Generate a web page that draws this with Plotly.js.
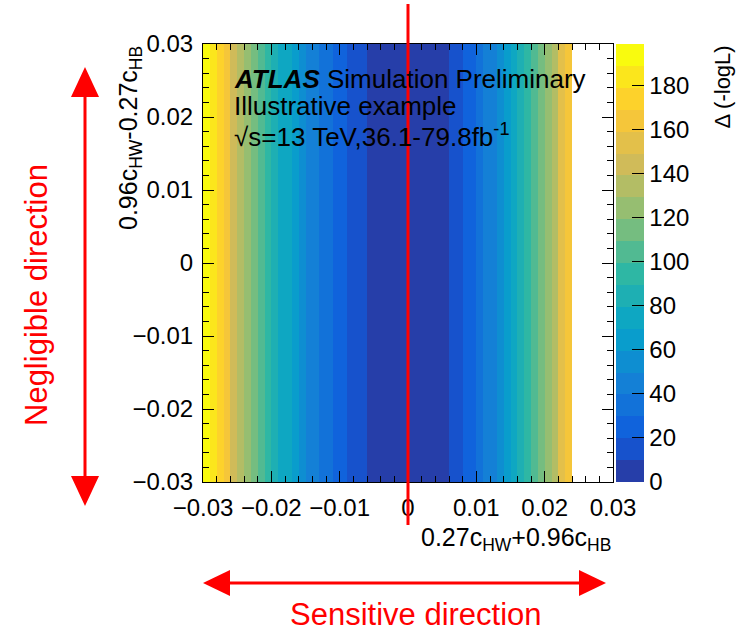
<!DOCTYPE html>
<html>
<head>
<meta charset="utf-8">
<script src="https://cdn.plot.ly/plotly-3.0.1.min.js"></script>
<style>
  html, body { margin: 0; padding: 0; background: #fff; }
  #chart { width: 750px; height: 632px; }
</style>
</head>
<body>
<div id="chart"></div>
<script>
// Bin centres along the sensitive direction (0.27cHW + 0.96cHB)
const xCenters = [
  -0.0295, -0.0285, -0.0275, -0.0265, -0.0255, -0.0245, -0.0235, -0.0225, -0.0215, -0.0205,
  -0.0195, -0.0185, -0.0175, -0.0165, -0.0155, -0.0145, -0.0135, -0.0125, -0.0115, -0.0105,
  -0.0095, -0.0085, -0.0075, -0.0065, -0.0055, -0.0045, -0.0035, -0.0025, -0.0015, -0.0005,
   0.0005,  0.0015,  0.0025,  0.0035,  0.0045,  0.0055,  0.0065,  0.0075,  0.0085,  0.0095,
   0.0105,  0.0115,  0.0125,  0.0135,  0.0145,  0.0155,  0.0165,  0.0175,  0.0185,  0.0195,
   0.0205,  0.0215,  0.0225,  0.0235
];
// Negligible direction: the likelihood is flat, a single row covers it
const yEdges = [-0.03, 0.03];
// Delta(-logL) in each column
const deltaNLL = [
  198, 185, 172, 160, 149, 138, 127, 116, 106, 97,
  88, 79, 71, 63, 56, 49, 42, 36, 31, 26,
  21, 17, 13, 11, 8, 6, 3.5, 2, 1, 0.3,
  0.2, 1, 2, 4, 6, 9, 13, 17, 22, 27,
  33, 40, 47, 55, 63, 72, 81, 91, 102, 114,
  126, 139, 152, 166
];
const zTickVals = [0, 20, 40, 60, 80, 100, 120, 140, 160, 180];

// ROOT "kBird" palette, split into 20 contour bands
const birdStops = [0.0, 0.125, 0.25, 0.375, 0.5, 0.625, 0.75, 0.875, 1.0];
const birdR = [0.2082, 0.0592, 0.0780, 0.0232, 0.1802, 0.5301, 0.8186, 0.9956, 0.9764];
const birdG = [0.1664, 0.3599, 0.5041, 0.6419, 0.7178, 0.7492, 0.7328, 0.7862, 0.9832];
const birdB = [0.5293, 0.8684, 0.8385, 0.7914, 0.6425, 0.4662, 0.3499, 0.1968, 0.0539];
function bird(t) {
  let i = 0;
  while (i < birdStops.length - 2 && t > birdStops[i + 1]) i++;
  const f = (t - birdStops[i]) / (birdStops[i + 1] - birdStops[i]);
  const c = ch => Math.round(255 * (ch[i] + f * (ch[i + 1] - ch[i])));
  return 'rgb(' + c(birdR) + ',' + c(birdG) + ',' + c(birdB) + ')';
}
const nBands = 20;
const colorscale = [];
for (let i = 0; i < nBands; i++) {
  // each contour band takes the palette colour at its upper end
  const col = bird(Math.min(1, (i + 0.99) / nBands));
  colorscale.push([i / nBands, col]);
  colorscale.push([(i + 1) / nBands, col]);
}

// Figure geometry (plot area in pixels)
const W = 750, H = 632;
const L = 203, R = 613, T = 44, B = 482;
const px = x => (x - L) / (R - L);
const py = y => (B - y) / (B - T);

const FONT = 'Liberation Sans, Arial, sans-serif';
const RED = '#ff0000';

const trace = {
  type: 'heatmap',
  x: xCenters,
  y: yEdges,
  z: [deltaNLL],
  zmin: 0,
  zmax: 199,
  colorscale: colorscale,
  zsmooth: false,
  hoverinfo: 'skip',
  colorbar: {
    x: px(616), xanchor: 'left', xpad: 0,
    y: 0.5, yanchor: 'middle', ypad: 0,
    len: 1, lenmode: 'fraction',
    thickness: 28, thicknessmode: 'pixels',
    outlinewidth: 0,
    tickmode: 'array', tickvals: zTickVals,
    ticks: 'inside', ticklen: 12, tickcolor: '#000', tickwidth: 1,
    ticklabelstandoff: 3,
    tickfont: { family: FONT, size: 24, color: '#000' }
  }
};

const axisCommon = {
  range: [-0.03, 0.03],
  showgrid: false, zeroline: false,
  showline: true, linecolor: '#000', linewidth: 1, mirror: 'allticks',
  ticks: 'inside', ticklen: 11, tickcolor: '#000', tickwidth: 1,
  dtick: 0.01, tick0: 0,
  minor: { ticks: 'inside', ticklen: 6, dtick: 0.002, tick0: 0, tickcolor: '#000', showgrid: false },
  tickfont: { family: FONT, size: 24, color: '#000' },
  fixedrange: true
};

function arrowHead(tipX, tipY, baseX, baseY, half) {
  // triangle pointing from base to tip, in pixel space
  const dx = tipX - baseX, dy = tipY - baseY;
  const len = Math.hypot(dx, dy);
  const nx = -dy / len * half, ny = dx / len * half;
  return {
    type: 'path', xref: 'paper', yref: 'paper', layer: 'above',
    path: 'M' + px(tipX) + ',' + py(tipY) +
          ' L' + px(baseX + nx) + ',' + py(baseY + ny) +
          ' L' + px(baseX - nx) + ',' + py(baseY - ny) + ' Z',
    fillcolor: RED, line: { width: 0 }
  };
}
function redLine(x0, y0, x1, y1, w) {
  return {
    type: 'line', xref: 'paper', yref: 'paper', layer: 'above',
    x0: px(x0), y0: py(y0), x1: px(x1), y1: py(y1),
    line: { color: RED, width: w }
  };
}

const shapes = [
  // vertical marker at the origin of the sensitive direction
  redLine(408, 4, 408, 525, 3),
  // negligible-direction arrow
  redLine(85, 92, 85, 482, 3),
  arrowHead(85, 67, 85, 97, 14),
  arrowHead(85, 506, 85, 476, 14),
  // sensitive-direction arrow
  redLine(226, 583, 584, 583, 3),
  arrowHead(203, 583, 230, 583, 13),
  arrowHead(606, 583, 579, 583, 13)
];

const annotations = [
  { text: '<b><i>ATLAS</i></b> Simulation Preliminary', x: px(232), y: py(79),
    xanchor: 'left', yanchor: 'middle', font: { family: FONT, size: 26, color: '#000' } },
  { text: 'Illustrative example', x: px(232), y: py(106),
    xanchor: 'left', yanchor: 'middle', font: { family: FONT, size: 26, color: '#000' } },
  { text: '√s=13 TeV,36.1-79.8fb<sup>-1</sup>', x: px(232), y: py(135),
    xanchor: 'left', yanchor: 'middle', font: { family: FONT, size: 26, color: '#000' } },
  { text: '0.27c<sub>HW</sub>+0.96c<sub>HB</sub>', x: 1, y: py(539),
    xanchor: 'right', yanchor: 'middle', font: { family: FONT, size: 25, color: '#000' } },
  { text: '0.96c<sub>HW</sub>-0.27c<sub>HB</sub>', x: px(130), y: 1, textangle: -90,
    xanchor: 'center', yanchor: 'top', font: { family: FONT, size: 25, color: '#000' } },
  { text: 'Δ (-logL)', x: px(722), y: py(44), textangle: -90,
    xanchor: 'center', yanchor: 'top', font: { family: FONT, size: 22, color: '#000' } },
  { text: 'Negligible direction', x: px(36), y: py(295), textangle: -90,
    xanchor: 'center', yanchor: 'middle', font: { family: FONT, size: 31, color: RED } },
  { text: 'Sensitive direction', x: px(416), y: py(614),
    xanchor: 'center', yanchor: 'middle', font: { family: FONT, size: 31, color: RED } }
].map(a => Object.assign({
  xref: 'paper', yref: 'paper', showarrow: false,
  font: { family: FONT, size: 24, color: '#000' }
}, a));

const layout = {
  width: W, height: H,
  margin: { l: L, r: W - R, t: T, b: H - B, pad: 0 },
  paper_bgcolor: '#fff', plot_bgcolor: '#fff',
  xaxis: Object.assign({}, axisCommon, { ticklabelstandoff: 4 }),
  yaxis: Object.assign({}, axisCommon, { ticklabelstandoff: 4 }),
  shapes: shapes,
  annotations: annotations,
  showlegend: false,
  font: { family: FONT, color: '#000' }
};

Plotly.newPlot('chart', [trace], layout, { staticPlot: true, displayModeBar: false });
</script>
</body>
</html>
